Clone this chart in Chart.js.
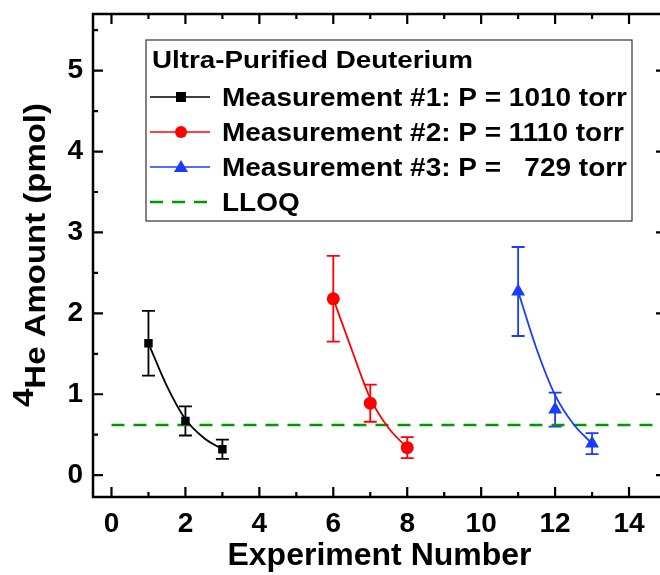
<!DOCTYPE html>
<html>
<head>
<meta charset="utf-8">
<script src="https://cdn.jsdelivr.net/npm/chart.js@4.4.0/dist/chart.umd.min.js"></script>
<style>
  body { margin: 0; background: #fff; overflow: hidden; }
  #wrap { width: 680px; height: 575px; }
</style>
</head>
<body>
<div id="wrap"><canvas id="heChart"></canvas></div>
<script>
// --- data -----------------------------------------------------------------
const expX1 = [1, 2, 3];
const amount1 = [1.63, 0.67, 0.32];
const err1 = [0.40, 0.18, 0.12];
const fitX1 = [1, 1.5, 2, 2.5, 3];
const fit1 = [1.63, 1.10, 0.69, 0.46, 0.32];

const expX2 = [6, 7, 8];
const amount2 = [2.18, 0.89, 0.34];
const err2 = [0.53, 0.23, 0.13];
const fitX2 = [6, 6.5, 7, 7.5, 8];
const fit2 = [2.18, 1.55, 0.95, 0.58, 0.34];

const expX3 = [11, 12, 13];
const amount3 = [2.27, 0.81, 0.39];
const err3 = [0.55, 0.21, 0.13];
const fitX3 = [11, 11.5, 12, 12.5, 13];
const fit3 = [2.27, 1.56, 0.99, 0.63, 0.39];

const lloqX = [0, 15];
const lloqValue = 0.62;

const xTicks = [0, 2, 4, 6, 8, 10, 12, 14];
const yTicks = [0, 1, 2, 3, 4, 5];

const legendTitle = "Ultra-Purified Deuterium";
const legendLabels = [
  "Measurement #1: P = 1010 torr",
  "Measurement #2: P = 1110 torr",
  "Measurement #3: P =   729 torr",
  "LLOQ"
];

const BLACK = "#000000";
const RED = "#ff0000";
const BLUE = "#1a3cff";
const GREEN = "#009900";
const FONT = "'Liberation Sans', Arial, sans-serif";

const pts = (xs, ys) => xs.map((x, i) => ({ x: x, y: ys[i] }));

const series = [
  { xs: expX1, ys: amount1, err: err1, fx: fitX1, fit: fit1, color: BLACK, shape: "rect", r: 6 },
  { xs: expX2, ys: amount2, err: err2, fx: fitX2, fit: fit2, color: RED, shape: "circle", r: 6.5 },
  { xs: expX3, ys: amount3, err: err3, fx: fitX3, fit: fit3, color: BLUE, shape: "triangle", r: 8 }
];

const datasets = [];
series.forEach(s => {
  // smooth decay curve
  datasets.push({
    data: pts(s.fx, s.fit),
    showLine: true,
    borderColor: s.color,
    borderWidth: 1.8,
    pointRadius: 0,
    cubicInterpolationMode: "monotone",
    fill: false
  });
  // measured points
  datasets.push({
    data: pts(s.xs, s.ys),
    showLine: false,
    pointStyle: s.shape,
    pointRadius: s.r,
    backgroundColor: s.color,
    borderColor: s.color,
    borderWidth: 0
  });
});
datasets.push({
  data: lloqX.map(x => ({ x: x, y: lloqValue })),
  showLine: true,
  borderColor: GREEN,
  borderWidth: 2.5,
  borderDash: [13, 9],
  pointRadius: 0,
  fill: false
});

// draw text stretched horizontally by a factor
function wideText(ctx, text, x, y, sx) {
  ctx.save();
  ctx.translate(x, y);
  ctx.scale(sx, 1);
  ctx.fillText(text, 0, 0);
  ctx.restore();
}

// --- error bars -----------------------------------------------------------
const errorBars = {
  id: "errorBars",
  beforeDatasetsDraw(chart) {
    const { ctx, scales: { x, y } } = chart;
    ctx.save();
    ctx.lineWidth = 1.8;
    series.forEach(s => {
      ctx.strokeStyle = s.color;
      s.xs.forEach((xv, i) => {
        const px = x.getPixelForValue(xv);
        const top = y.getPixelForValue(s.ys[i] + s.err[i]);
        const bot = y.getPixelForValue(s.ys[i] - s.err[i]);
        ctx.beginPath();
        ctx.moveTo(px, top); ctx.lineTo(px, bot);
        ctx.moveTo(px - 6.5, top); ctx.lineTo(px + 6.5, top);
        ctx.moveTo(px - 6.5, bot); ctx.lineTo(px + 6.5, bot);
        ctx.stroke();
      });
    });
    ctx.restore();
  }
};

// --- frame, inward ticks, y title, legend box ------------------------------
const frame = {
  id: "frame",
  afterDraw(chart) {
    const { ctx, chartArea: a, scales: { x, y } } = chart;
    ctx.save();
    ctx.strokeStyle = "#000";
    ctx.lineWidth = 2.5;
    ctx.strokeRect(a.left, a.top, a.right - a.left, a.bottom - a.top);

    ctx.lineWidth = 2.2;
    ctx.beginPath();
    for (let v = 0; v <= 15; v += 1) {
      const px = x.getPixelForValue(v);
      const len = v % 2 === 0 ? 10 : 5;
      ctx.moveTo(px, a.bottom); ctx.lineTo(px, a.bottom - len);
      ctx.moveTo(px, a.top); ctx.lineTo(px, a.top + len);
    }
    for (let v = 0; v <= 5.5; v += 0.5) {
      const py = y.getPixelForValue(v);
      const len = v % 1 === 0 ? 10 : 5;
      ctx.moveTo(a.left, py); ctx.lineTo(a.left + len, py);
      ctx.moveTo(a.right, py); ctx.lineTo(a.right - len, py);
    }
    ctx.stroke();

    // y axis title with superscript 4
    ctx.fillStyle = "#000";
    ctx.translate(45, 255);
    ctx.rotate(-Math.PI / 2);
    ctx.font = "bold 29px " + FONT;
    const wSup = ctx.measureText("4").width;
    const main = "He Amount (pmol)";
    const wMain = ctx.measureText(main).width;
    const sx = 304 / (wSup + wMain);
    ctx.scale(sx, 1);
    const start = -(wSup + wMain) / 2;
    ctx.textBaseline = "alphabetic";
    ctx.fillText("4", start, -12);
    ctx.fillText(main, start + wSup, 0);
    ctx.restore();

    // legend
    ctx.save();
    const L = 146, T = 40, R = 632, B = 221;
    ctx.fillStyle = "#fff";
    ctx.fillRect(L, T, R - L, B - T);
    ctx.strokeStyle = "#333";
    ctx.lineWidth = 1.2;
    ctx.strokeRect(L, T, R - L, B - T);
    ctx.fillStyle = "#000";
    ctx.textBaseline = "alphabetic";
    ctx.font = "bold 23px " + FONT;
    wideText(ctx, legendTitle, 152, 68, 321 / ctx.measureText(legendTitle).width);
    ctx.font = "bold 25px " + FONT;
    const rowScale = 405 / ctx.measureText(legendLabels[0]).width;
    const rowY = [97, 132, 167, 202];
    const cols = [BLACK, RED, BLUE, GREEN];
    rowY.forEach((ry, i) => {
      ctx.strokeStyle = cols[i];
      ctx.lineWidth = i === 3 ? 2.5 : 1.6;
      ctx.setLineDash(i === 3 ? [13, 9] : []);
      ctx.beginPath();
      ctx.moveTo(150, ry); ctx.lineTo(210, ry);
      ctx.stroke();
      ctx.setLineDash([]);
      ctx.fillStyle = cols[i];
      if (i === 0) ctx.fillRect(176, ry - 5, 10, 10);
      if (i === 1) { ctx.beginPath(); ctx.arc(181, ry, 6, 0, Math.PI * 2); ctx.fill(); }
      if (i === 2) { ctx.beginPath(); ctx.moveTo(181, ry - 7); ctx.lineTo(188, ry + 5); ctx.lineTo(174, ry + 5); ctx.closePath(); ctx.fill(); }
      ctx.fillStyle = "#000";
      wideText(ctx, legendLabels[i], 222, ry + 9, rowScale);
    });
    ctx.restore();
  }
};

new Chart(document.getElementById("heChart"), {
  type: "scatter",
  data: { datasets: datasets },
  options: {
    responsive: true,
    maintainAspectRatio: false,
    animation: false,
    events: [],
    layout: { padding: { top: 14, right: 14, left: 0, bottom: 0 } },
    plugins: { legend: { display: false }, tooltip: { enabled: false } },
    scales: {
      x: {
        type: "linear",
        min: -0.5,
        max: 15,
        grid: { display: false, drawTicks: false },
        border: { display: false },
        afterBuildTicks: s => { s.ticks = xTicks.map(v => ({ value: v })); },
        afterFit: s => { s.height = 78; s.paddingLeft = 0; s.paddingRight = 0; },
        ticks: { color: "#000", padding: 10, font: { family: FONT, size: 28, weight: "bold" } },
        title: {
          display: true,
          text: "Experiment Number",
          color: "#000",
          padding: { top: 0, bottom: 0 },
          font: { family: FONT, size: 32, weight: "bold" }
        }
      },
      y: {
        type: "linear",
        min: -0.27,
        max: 5.7,
        grid: { display: false, drawTicks: false },
        border: { display: false },
        afterBuildTicks: s => { s.ticks = yTicks.map(v => ({ value: v })); },
        afterFit: s => { s.width = 93; s.paddingTop = 0; s.paddingBottom = 0; },
        ticks: { color: "#000", padding: 10, font: { family: FONT, size: 28, weight: "bold" } }
      }
    }
  },
  plugins: [errorBars, frame]
});
</script>
</body>
</html>
